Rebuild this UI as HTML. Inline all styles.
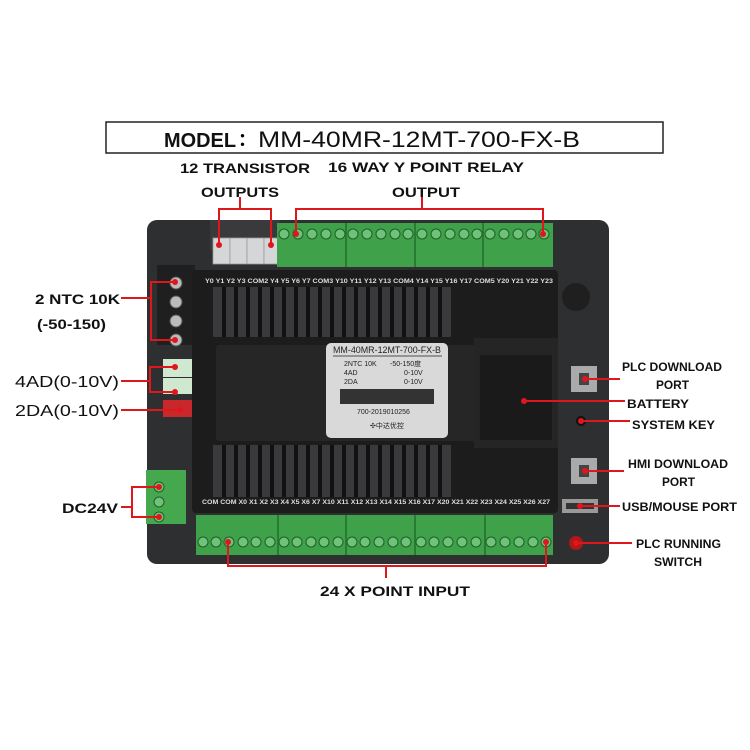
<!DOCTYPE html>
<html><head><meta charset="utf-8"><style>
html,body{margin:0;padding:0;background:#fff;}
svg{display:block;}
text{font-family:"Liberation Sans","Noto Sans CJK SC",sans-serif;}
.b{font-weight:bold;font-size:14px;fill:#111;}
</style></head><body>
<svg width="750" height="750" viewBox="0 0 750 750" xmlns="http://www.w3.org/2000/svg">
<rect x="106" y="122" width="557" height="31" fill="#fff" stroke="#222" stroke-width="1.5"/>
<text x="164" y="147" class="b" style="font-size:20px" textLength="72" lengthAdjust="spacingAndGlyphs">MODEL</text>
<text x="238" y="146" style="font-size:18px;font-weight:bold">：</text>
<text x="258" y="147" style="font-size:22px;fill:#111" textLength="322" lengthAdjust="spacingAndGlyphs">MM-40MR-12MT-700-FX-B</text>
<text x="180" y="173" class="b" textLength="130" lengthAdjust="spacingAndGlyphs">12 TRANSISTOR</text>
<text x="201" y="197" class="b" textLength="78" lengthAdjust="spacingAndGlyphs">OUTPUTS</text>
<text x="328" y="172" class="b" textLength="196" lengthAdjust="spacingAndGlyphs">16 WAY Y POINT RELAY</text>
<text x="392" y="197" class="b" textLength="68" lengthAdjust="spacingAndGlyphs">OUTPUT</text>

<!-- casing -->
<rect x="147" y="220" width="462" height="344" rx="10" fill="#2e2f31"/>
<rect x="210" y="220" width="70" height="30" fill="#3a3a3c"/>
<!-- transistor connectors -->
<g fill="#d5d6d8" stroke="#999" stroke-width="0.8">
<rect x="213" y="238" width="17" height="26"/><rect x="230" y="238" width="17" height="26"/><rect x="247" y="238" width="17" height="26"/><rect x="264" y="238" width="16" height="26"/>
</g>
<!-- top green terminals -->
<rect x="277" y="223" width="276" height="44" fill="#3fa14a"/>
<g fill="#2a7a33"><rect x="345" y="223" width="2" height="44"/><rect x="414" y="223" width="2" height="44"/><rect x="482" y="223" width="2" height="44"/></g>
<g fill="#6fc27a" stroke="#1f5e27" stroke-width="1">
<circle cx="284" cy="234" r="5"/><circle cx="298" cy="234" r="5"/><circle cx="312" cy="234" r="5"/><circle cx="326" cy="234" r="5"/><circle cx="340" cy="234" r="5"/>
<circle cx="353" cy="234" r="5"/><circle cx="367" cy="234" r="5"/><circle cx="381" cy="234" r="5"/><circle cx="395" cy="234" r="5"/><circle cx="408" cy="234" r="5"/>
<circle cx="422" cy="234" r="5"/><circle cx="436" cy="234" r="5"/><circle cx="450" cy="234" r="5"/><circle cx="464" cy="234" r="5"/><circle cx="477" cy="234" r="5"/>
<circle cx="490" cy="234" r="5"/><circle cx="504" cy="234" r="5"/><circle cx="518" cy="234" r="5"/><circle cx="531" cy="234" r="5"/><circle cx="544" cy="234" r="5"/>
</g>
<!-- left terminal block -->
<rect x="157" y="265" width="38" height="80" fill="#1f1f20"/>
<g fill="#bbb" stroke="#555"><circle cx="176" cy="283" r="6"/><circle cx="176" cy="302" r="6"/><circle cx="176" cy="321" r="6"/><circle cx="176" cy="340" r="6"/></g>
<rect x="163" y="359" width="30" height="18" fill="#cfe8cf"/>
<rect x="163" y="378" width="30" height="16" fill="#cfe8cf"/>
<rect x="163" y="400" width="30" height="17" fill="#c8282b"/>
<!-- DC24V terminal -->
<rect x="146" y="470" width="40" height="54" fill="#45a84f"/>
<g fill="#6fc27a" stroke="#1f5e27"><circle cx="159" cy="487" r="5"/><circle cx="159" cy="502" r="5"/><circle cx="159" cy="517" r="5"/></g>
<!-- inner panel -->
<rect x="192" y="270" width="366" height="243" rx="4" fill="#1c1c1d"/>
<g fill="#3a3a3c">
<rect x="213" y="287" width="238" height="50"/>
<rect x="213" y="445" width="238" height="52"/>
</g>
<g stroke="#111" stroke-width="4">
<path d="M224 287V337M236 287V337M248 287V337M260 287V337M272 287V337M284 287V337M296 287V337M308 287V337M320 287V337M332 287V337M344 287V337M356 287V337M368 287V337M380 287V337M392 287V337M404 287V337M416 287V337M428 287V337M440 287V337"/>
<path d="M224 445V497M236 445V497M248 445V497M260 445V497M272 445V497M284 445V497M296 445V497M308 445V497M320 445V497M332 445V497M344 445V497M356 445V497M368 445V497M380 445V497M392 445V497M404 445V497M416 445V497M428 445V497M440 445V497"/>
</g>
<rect x="216" y="345" width="260" height="96" rx="3" fill="#262627"/>
<text x="205" y="283" style="font-size:6px;fill:#ddd;font-weight:bold" textLength="348" lengthAdjust="spacingAndGlyphs">Y0  Y1   Y2   Y3   COM2 Y4  Y5  Y6  Y7 COM3 Y10 Y11 Y12 Y13 COM4 Y14 Y15 Y16 Y17 COM5 Y20 Y21 Y22 Y23</text>
<text x="202" y="504" style="font-size:6px;fill:#ddd;font-weight:bold" textLength="348" lengthAdjust="spacingAndGlyphs">COM COM X0  X1  X2  X3  X4  X5  X6  X7  X10 X11 X12 X13 X14 X15 X16 X17 X20 X21 X22 X23 X24 X25 X26 X27</text>
<!-- label -->
<rect x="326" y="343" width="122" height="95" rx="5" fill="#d9d9d9"/>
<text x="333" y="353" style="font-size:9px;fill:#222" textLength="108" lengthAdjust="spacingAndGlyphs">MM-40MR-12MT-700-FX-B</text>
<line x1="333" y1="356" x2="442" y2="356" stroke="#222" stroke-width="0.8"/>
<text x="344" y="366" style="font-size:7px;fill:#222">2NTC 10K</text><text x="390" y="366" style="font-size:7px;fill:#222">-50-150度</text>
<text x="344" y="375" style="font-size:7px;fill:#222">4AD</text><text x="404" y="375" style="font-size:7px;fill:#222">0-10V</text>
<text x="344" y="384" style="font-size:7px;fill:#222">2DA</text><text x="404" y="384" style="font-size:7px;fill:#222">0-10V</text>
<rect x="340" y="389" width="94" height="15" fill="#333"/>
<text x="357" y="414" style="font-size:7px;fill:#222">700-2019010256</text>
<text x="370" y="428" style="font-size:7px;fill:#222">✣中达优控</text>
<!-- battery door -->
<rect x="474" y="338" width="84" height="110" fill="#252526"/>
<rect x="480" y="355" width="72" height="85" fill="#1a1a1b"/>
<!-- right ports -->
<rect x="571" y="366" width="26" height="26" fill="#aaa"/><rect x="579" y="373" width="10" height="12" fill="#444"/>
<circle cx="581" cy="421" r="5" fill="#111"/>
<rect x="571" y="458" width="26" height="26" fill="#aaa"/><rect x="579" y="465" width="10" height="12" fill="#444"/>
<rect x="562" y="499" width="36" height="14" fill="#999"/><rect x="566" y="503" width="28" height="6" fill="#333"/>
<circle cx="576" cy="543" r="7" fill="#b3161a"/>
<circle cx="576" cy="297" r="14" fill="#1f1f20"/>
<!-- bottom green terminals -->
<rect x="196" y="515" width="357" height="40" fill="#3fa14a"/>
<g fill="#2a7a33"><rect x="277" y="515" width="2" height="40"/><rect x="345" y="515" width="2" height="40"/><rect x="414" y="515" width="2" height="40"/><rect x="484" y="515" width="2" height="40"/></g>
<g fill="#6fc27a" stroke="#1f5e27">
<circle cx="203" cy="542" r="5"/><circle cx="216" cy="542" r="5"/><circle cx="229" cy="542" r="5"/><circle cx="243" cy="542" r="5"/><circle cx="256" cy="542" r="5"/><circle cx="270" cy="542" r="5"/>
<circle cx="284" cy="542" r="5"/><circle cx="297" cy="542" r="5"/><circle cx="311" cy="542" r="5"/><circle cx="324" cy="542" r="5"/><circle cx="338" cy="542" r="5"/>
<circle cx="352" cy="542" r="5"/><circle cx="365" cy="542" r="5"/><circle cx="379" cy="542" r="5"/><circle cx="393" cy="542" r="5"/><circle cx="406" cy="542" r="5"/>
<circle cx="421" cy="542" r="5"/><circle cx="434" cy="542" r="5"/><circle cx="448" cy="542" r="5"/><circle cx="462" cy="542" r="5"/><circle cx="476" cy="542" r="5"/>
<circle cx="491" cy="542" r="5"/><circle cx="505" cy="542" r="5"/><circle cx="519" cy="542" r="5"/><circle cx="533" cy="542" r="5"/><circle cx="546" cy="542" r="5"/>
</g>
<!-- red leaders -->
<g stroke="#e0161d" stroke-width="2" fill="none">
<path d="M240 197V209H219V245M240 209H271V245"/>
<path d="M422 197V209H296V234M422 209H543V234"/>
<path d="M148 298H151V282H175M151 298V340H175"/>
<path d="M121 298H148"/>
<path d="M121 381H150V367H175M150 381V392H175M150 381"/>
<path d="M121 410H180"/>
<path d="M121 507H132V487H159M132 507V517H159"/>
<path d="M228 542V566H546V542M386 566V578"/>
<path d="M585 379H620M524 401H625M581 421H630M585 471H624M580 506H620M576 543H632"/>
</g>
<g fill="#e0161d"><circle cx="219" cy="245" r="3"/><circle cx="271" cy="245" r="3"/><circle cx="296" cy="234" r="3"/><circle cx="543" cy="234" r="3"/>
<circle cx="175" cy="282" r="3"/><circle cx="175" cy="340" r="3"/><circle cx="175" cy="367" r="3"/><circle cx="175" cy="392" r="3"/><circle cx="180" cy="410" r="3"/>
<circle cx="159" cy="487" r="3"/><circle cx="159" cy="517" r="3"/><circle cx="228" cy="542" r="3"/><circle cx="546" cy="542" r="3"/>
<circle cx="585" cy="379" r="3"/><circle cx="524" cy="401" r="3"/><circle cx="581" cy="421" r="3"/><circle cx="585" cy="471" r="3"/><circle cx="580" cy="506" r="3"/><circle cx="576" cy="543" r="3"/></g>
<!-- side labels -->
<text x="35" y="304" class="b" textLength="85" lengthAdjust="spacingAndGlyphs">2 NTC 10K</text>
<text x="37" y="329" class="b" textLength="69" lengthAdjust="spacingAndGlyphs">(-50-150)</text>
<text x="15" y="387" style="font-size:16px;fill:#111" textLength="104" lengthAdjust="spacingAndGlyphs">4AD(0-10V)</text>
<text x="15" y="416" style="font-size:16px;fill:#111" textLength="104" lengthAdjust="spacingAndGlyphs">2DA(0-10V)</text>
<text x="62" y="513" class="b" textLength="56" lengthAdjust="spacingAndGlyphs">DC24V</text>
<g style="font-size:12px">
<text x="622" y="371" class="b" style="font-size:12px" textLength="100" lengthAdjust="spacingAndGlyphs">PLC DOWNLOAD</text>
<text x="656" y="389" class="b" style="font-size:12px" textLength="33" lengthAdjust="spacingAndGlyphs">PORT</text>
<text x="627" y="408" class="b" style="font-size:12px" textLength="62" lengthAdjust="spacingAndGlyphs">BATTERY</text>
<text x="632" y="429" class="b" style="font-size:12px" textLength="83" lengthAdjust="spacingAndGlyphs">SYSTEM KEY</text>
<text x="628" y="468" class="b" style="font-size:12px" textLength="100" lengthAdjust="spacingAndGlyphs">HMI DOWNLOAD</text>
<text x="662" y="486" class="b" style="font-size:12px" textLength="33" lengthAdjust="spacingAndGlyphs">PORT</text>
<text x="622" y="511" class="b" style="font-size:12px" textLength="115" lengthAdjust="spacingAndGlyphs">USB/MOUSE PORT</text>
<text x="636" y="548" class="b" style="font-size:12px" textLength="85" lengthAdjust="spacingAndGlyphs">PLC RUNNING</text>
<text x="654" y="566" class="b" style="font-size:12px" textLength="48" lengthAdjust="spacingAndGlyphs">SWITCH</text>
</g>
<text x="320" y="596" class="b" textLength="150" lengthAdjust="spacingAndGlyphs">24 X POINT INPUT</text>
</svg>
</body></html>
